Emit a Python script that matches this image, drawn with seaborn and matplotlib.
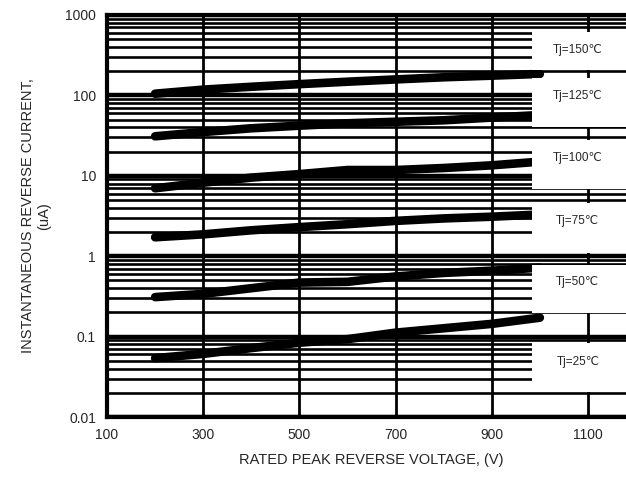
import numpy as np
import pandas as pd
import seaborn as sns
import matplotlib.pyplot as plt
from matplotlib.patches import Rectangle
from matplotlib.ticker import FixedLocator, FixedFormatter, LogLocator, NullFormatter

# datos
volts = [200, 300, 400, 500, 600, 700, 800, 900, 1000]
tj150 = [105, 118, 128, 138, 148, 158, 168, 176, 185]
tj125 = [31, 35, 39, 42, 45, 47, 49, 53, 57]
tj100 = [7.0, 8.2, 9.5, 10.5, 11.8, 11.8, 12.5, 13.5, 15]
tj75 = [1.72, 1.87, 2.1, 2.3, 2.5, 2.75, 2.95, 3.1, 3.3]
tj50 = [0.31, 0.34, 0.40, 0.47, 0.48, 0.56, 0.62, 0.66, 0.72]
tj25 = [0.054, 0.061, 0.072, 0.084, 0.093, 0.112, 0.127, 0.144, 0.172]

etiquetas = ["Tj=150℃", "Tj=125℃", "Tj=100℃", "Tj=75℃", "Tj=50℃", "Tj=25℃"]
series = [tj150, tj125, tj100, tj75, tj50, tj25]

x_ticks = [100, 300, 500, 700, 900, 1100]
y_ticks = [0.01, 0.1, 1, 10, 100, 1000]
y_labels = ["0.01", "0.1", "1", "10", "100", "1000"]

sns.set_style("white")
plt.rcParams['font.family'] = ['Liberation Sans', 'DejaVu Sans']

filas = []
for nombre, vals in zip(etiquetas, series):
    for v, c in zip(volts, vals):
        filas.append({"volt": v, "corriente": c, "tj": nombre})
data = pd.DataFrame(filas)

fig = plt.figure(figsize=(6.26, 4.79), dpi=100)
ax = fig.add_axes([0.171, 0.1294, 0.845, 0.8393])

ax.set_yscale("log")
ax.set_xlim(100, 1200)
ax.set_ylim(0.01, 1000)

# rejilla gruesa negra
ax.yaxis.set_minor_locator(LogLocator(base=10, subs=np.arange(2, 10), numticks=20))
ax.yaxis.set_minor_formatter(NullFormatter())
ax.grid(True, which="major", axis="y", color="black", linewidth=3.2, zorder=1)
ax.grid(True, which="minor", axis="y", color="black", linewidth=1.9, zorder=1)
ax.xaxis.set_major_locator(FixedLocator(x_ticks))
ax.grid(True, which="major", axis="x", color="black", linewidth=2.0, zorder=1)
ax.set_axisbelow(True)

sns.lineplot(data=data, x="volt", y="corriente", hue="tj", hue_order=etiquetas,
             palette=["black"] * 6, linewidth=6.2, legend=False, ax=ax,
             solid_capstyle="round", zorder=3)

# cajas blancas con las etiquetas de temperatura
cajas = [(207, 615), (40.5, 164), (6.85, 27.9), (1.1, 4.6), (0.197, 0.78), (0.0205, 0.083)]
pos_texto = [367, 98, 16.6, 2.74, 0.478, 0.0483]
for (y0, y1), yt, txt in zip(cajas, pos_texto, etiquetas):
    ax.add_patch(Rectangle((983, y0), 300, y1 - y0, facecolor="white",
                           edgecolor="none", zorder=4))
    ax.text(1079, yt, txt, ha="center", va="center", fontsize=8.5, zorder=5)

ax.yaxis.set_major_locator(FixedLocator(y_ticks))
ax.yaxis.set_major_formatter(FixedFormatter(y_labels))
ax.set_xticklabels([str(t) for t in x_ticks])
ax.tick_params(axis="both", which="both", length=0, labelsize=10, pad=8)

for s in ax.spines.values():
    s.set_linewidth(3)
    s.set_color("black")

ax.set_xlabel("RATED PEAK REVERSE VOLTAGE, (V)", fontsize=10.5, labelpad=8)
ax.set_ylabel("INSTANTANEOUS REVERSE CURRENT,\n(uA)", fontsize=10.5, labelpad=10)

plt.savefig("out.png", dpi=100)
